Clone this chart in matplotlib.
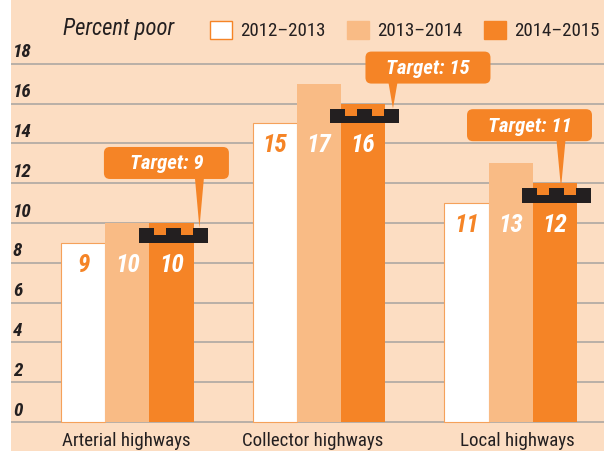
import os
import matplotlib
matplotlib.use("Agg")
import matplotlib.pyplot as plt
from matplotlib.patches import Rectangle, Polygon, FancyBboxPatch
from matplotlib import transforms as mtransforms
from matplotlib import font_manager as fm
import numpy as np

# ---------------- data ----------------
categories = ["Arterial highways", "Collector highways", "Local highways"]
series_names = ["2012–2013", "2013–2014", "2014–2015"]
v_2012_2013 = [9, 15, 11]
v_2013_2014 = [10, 17, 13]
v_2014_2015 = [10, 16, 12]
targets = [9, 15, 11]
target_labels = ["Target: 9", "Target: 15", "Target: 11"]
y_ticks = [0, 2, 4, 6, 8, 10, 12, 14, 16, 18]
y_title = "Percent poor"

# ---------------- fonts ----------------
files = [f.fname for f in fm.fontManager.ttflist]
base = {os.path.basename(f).lower(): f for f in files}

FONT_SETS = [
    ("RobotoCondensed-Regular.ttf", "RobotoCondensed-Italic.ttf", "RobotoCondensed-BoldItalic.ttf"),
    ("LiberationSansNarrow-Regular.ttf", "LiberationSansNarrow-Italic.ttf", "LiberationSansNarrow-BoldItalic.ttf"),
    ("NotoSans-Condensed.ttf", "NotoSans-CondensedItalic.ttf", "NotoSans-CondensedBoldItalic.ttf"),
    ("DejaVuSansCondensed.ttf", "DejaVuSansCondensed-Oblique.ttf", "DejaVuSansCondensed-BoldOblique.ttf"),
    ("Roboto-Regular.ttf", "Roboto-Italic.ttf", "Roboto-BoldItalic.ttf"),
    ("LiberationSans-Regular.ttf", "LiberationSans-Italic.ttf", "LiberationSans-BoldItalic.ttf"),
]
f_reg = f_it = f_bi = None
for a, b, c in FONT_SETS:
    if a.lower() in base and b.lower() in base and c.lower() in base:
        f_reg, f_it, f_bi = base[a.lower()], base[b.lower()], base[c.lower()]
        break

def fp(kind, size):
    f = {"reg": f_reg, "it": f_it, "bi": f_bi}[kind]
    if f is not None:
        return fm.FontProperties(fname=f, size=size)
    st = {"reg": ("normal", "normal"), "it": ("italic", "normal"),
          "bi": ("italic", "bold")}[kind]
    return fm.FontProperties(family="DejaVu Sans", style=st[0], weight=st[1], size=size)

BG = "#FCDDC2"
C_WHITE = "#FFFFFF"
C_LIGHT = "#F9BB85"
C_ORANGE = "#F58426"
C_EDGE = "#F5A15A"
C_GRID = "#ADA7A2"
C_TEXT = "#231F20"
colors = [C_WHITE, C_LIGHT, C_ORANGE]

W, H = 604, 452
fig = plt.figure(figsize=(W / 100, H / 100), dpi=100)
fig.patch.set_facecolor("white")
ax = fig.add_axes([11 / W, 0, (W - 11) / W, 1])
ax.set_facecolor(BG)
for s in ax.spines.values():
    s.set_visible(False)
ax.set_xticks([])
ax.set_yticks([])
ax.set_xlim(-0.608, 2.488)
ax.set_ylim(-1.457, 21.256)
fig.canvas.draw()
renderer = fig.canvas.get_renderer()

def fit_size(kind, text, target_px, start=14):
    t = fig.text(0, 0, text, fontproperties=fp(kind, start))
    w = t.get_window_extent(renderer).width
    t.remove()
    return start * target_px / w

x = np.arange(len(categories))
bw = 0.23
series = [v_2012_2013, v_2013_2014, v_2014_2015]

# grid + y labels
s_tick = fit_size("bi", "18", 19)
for t in y_ticks:
    ax.axhline(t, color=C_GRID, lw=1.2, zorder=1)
    ax.text(0.003, t + 0.62, str(t), transform=ax.get_yaxis_transform(),
            ha="left", va="center", fontproperties=fp("bi", s_tick), color=C_TEXT)

# bars + value labels
s_val = fit_size("bi", "15", 25)
for i, (vals, col) in enumerate(zip(series, colors)):
    off = (i - 1) * bw
    ec = C_EDGE if col == C_WHITE else col
    ax.bar(x + off, vals, width=bw, color=col, edgecolor=ec,
           linewidth=0.8 if col == C_WHITE else 0, zorder=2)
    for j, (xi, v) in enumerate(zip(x, vals)):
        ylab = min(s[j] for s in series) - 1.05
        ax.text(xi + off, ylab, str(v), ha="center", va="center",
                fontproperties=fp("bi", s_val),
                color=C_ORANGE if col == C_WHITE else "white", zorder=4)

# category labels
s_cat = fit_size("reg", categories[1], 142)
cat_dx = [-0.005, -0.035, 0.034]
for xi, c, d in zip(x, categories, cat_dx):
    ax.text(xi + d, -0.9, c, ha="center", va="center",
            fontproperties=fp("reg", s_cat), color=C_TEXT)

# target markers (battlement shapes)
MW = 0.36
m = 0.078
g = (MW - 3 * m) / 2
hb, ht = 0.4, 0.75
tr = ax.transData
ident = mtransforms.IdentityTransform()
s_tgt = fit_size("bi", "Target: 15", 84)
callout_layout = [(-7, 65, 26), (63, 41, 28), (-27, 63, 4.5)]  # px: box dx, box dy, tip dx
for xi, t, lab, (bdx, bdy, tdx) in zip(x, targets, target_labels, callout_layout):
    c = xi + bw + 0.01
    x0 = c - MW / 2
    pts = [(x0, t), (x0 + MW, t), (x0 + MW, t + ht), (x0 + MW - m, t + ht),
           (x0 + MW - m, t + hb), (x0 + MW - m - g, t + hb),
           (x0 + MW - m - g, t + ht), (x0 + m + g, t + ht), (x0 + m + g, t + hb),
           (x0 + m, t + hb), (x0 + m, t + ht), (x0, t + ht)]
    ax.add_patch(Polygon(pts, closed=True, facecolor=C_TEXT, edgecolor="none", zorder=5))
    cx, ty = tr.transform((c, t + ht))
    bcx, bcy = cx + bdx, ty + bdy
    bwpx, bhpx = 125, 32
    ax.add_patch(FancyBboxPatch((bcx - bwpx / 2, bcy - bhpx / 2), bwpx, bhpx,
                                boxstyle="round,pad=0,rounding_size=6",
                                facecolor=C_ORANGE, edgecolor="none",
                                transform=ident, zorder=6))
    tipx = cx + tdx
    bot = bcy - bhpx / 2
    ax.add_patch(Polygon([(tipx - 4.5, bot + 1), (tipx + 4.5, bot + 1), (tipx, ty)],
                         closed=True, facecolor=C_ORANGE, edgecolor="none",
                         transform=ident, zorder=6))
    ax.text(bcx, bcy, lab, transform=ident, ha="center", va="center",
            fontproperties=fp("bi", s_tgt), color="white", zorder=7)

# title and legend (figure pixel coords)
def fx(px):
    return px / W

def fy(py):
    return 1 - py / H

s_title = fit_size("it", y_title, 112)
fig.text(fx(63), fy(29), y_title, ha="left", va="center",
         fontproperties=fp("it", s_title), color=C_TEXT)
s_leg = fit_size("reg", series_names[0], 86)
leg_x = [210, 347, 484]
for lx, col, name in zip(leg_x, colors, series_names):
    ec = C_ORANGE if col == C_WHITE else col
    fig.patches.append(Rectangle((fx(lx), fy(40)), 22 / W, 18 / H,
                                 transform=fig.transFigure, facecolor=col,
                                 edgecolor=ec, linewidth=1.0, figure=fig))
    fig.text(fx(lx + 30), fy(31), name, ha="left", va="center",
             fontproperties=fp("reg", s_leg), color=C_TEXT)

fig.savefig("out.png", dpi=100, facecolor=fig.get_facecolor())
